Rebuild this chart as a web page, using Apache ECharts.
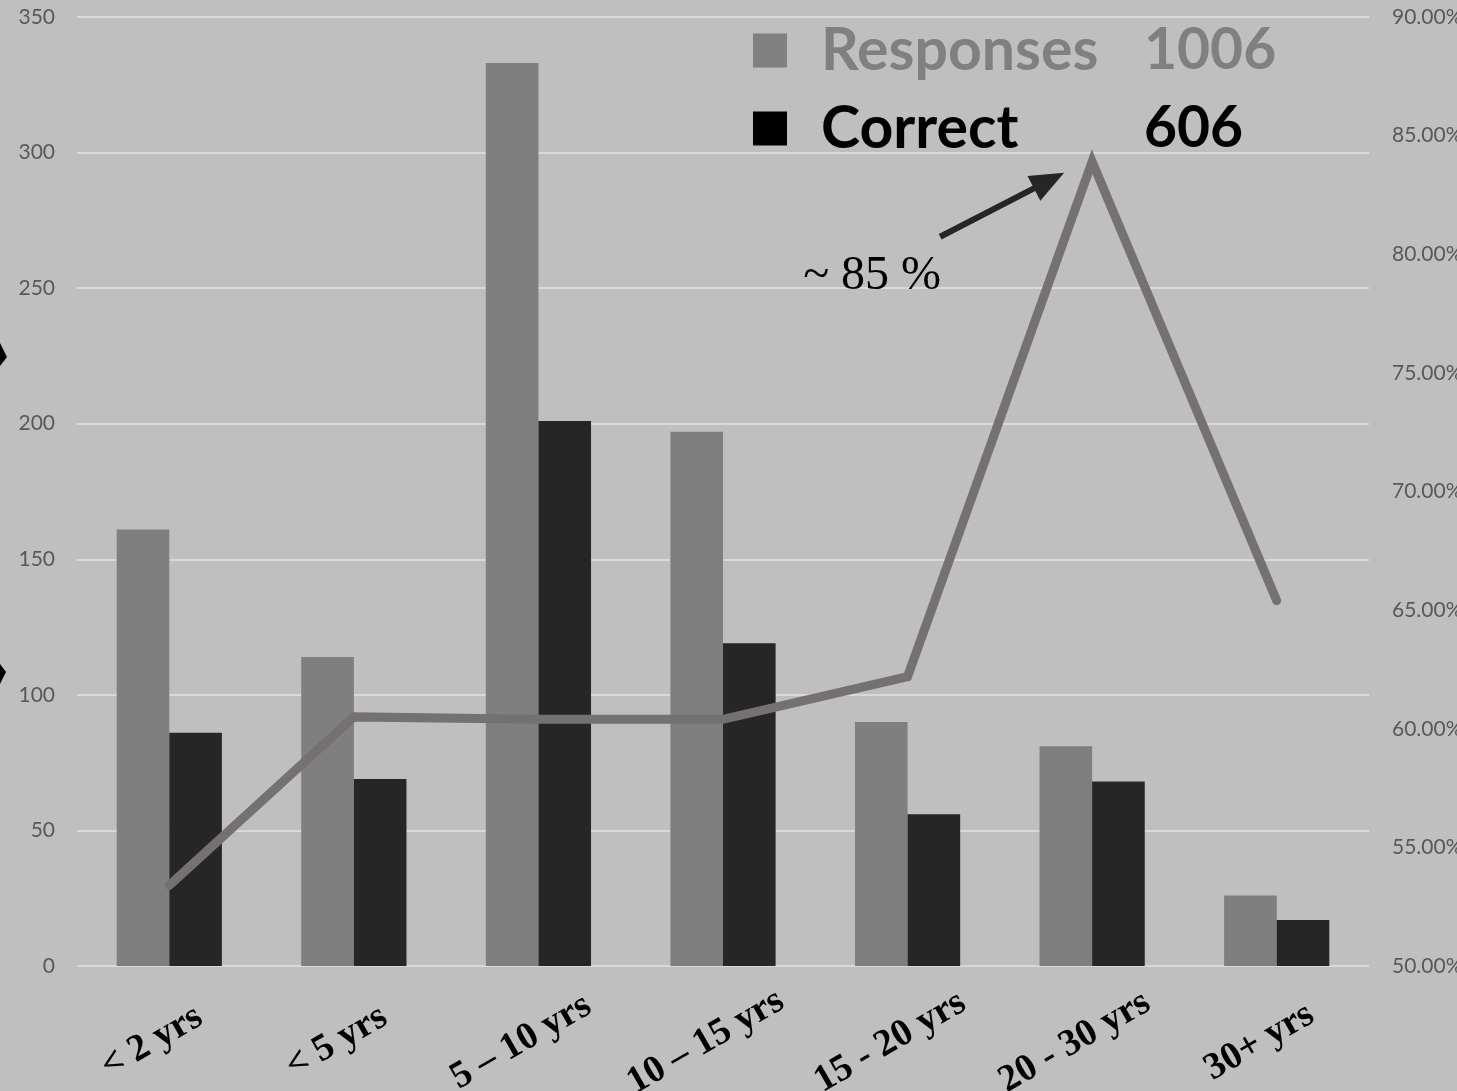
<!DOCTYPE html>
<html>
<head>
<meta charset="utf-8">
<script src="https://cdn.jsdelivr.net/npm/echarts@6/dist/echarts.min.js"></script>
<style>
html,body{margin:0;padding:0;background:#bfbfbf;}
#c{width:1457px;height:1091px;}
</style>
</head>
<body>
<div id="c"></div>
<script>
var categories = ['< 2 yrs', '< 5 yrs', '5 \u2013 10 yrs', '10 \u2013 15 yrs', '15 - 20 yrs', '20 - 30 yrs', '30+ yrs'];
var responses = [161, 114, 333, 197, 90, 81, 26];
var correct = [86, 69, 201, 119, 56, 68, 17];
var percentCorrect = [53.4, 60.5, 60.4, 60.4, 62.2, 83.9, 65.4];
var leftTicks = {min: 0, max: 350, interval: 50};
var rightTicks = {min: 50, max: 90, interval: 5};
var legendTotals = {Responses: 1006, Correct: 606};
var annotationText = '~ 85 %';

var chart = echarts.init(document.getElementById('c'));
var option = {
  backgroundColor: '#bfbfbf',
  animation: false,
  grid: {left: 77, right: 88, top: 17, bottom: 125, containLabel: false, outerBoundsMode: 'none'},
  legend: {
    data: [{name: 'Responses', itemStyle: {color: '#808080'}}, {name: 'Correct', itemStyle: {color: '#000000'}}],
    orient: 'vertical',
    left: 753,
    top: 21,
    padding: 0,
    itemWidth: 34,
    itemHeight: 34,
    itemGap: 19,
    icon: 'rect',
    selectedMode: false,
    formatter: function (name) {
      if (name === 'Responses') return '{a|Responses}{b|' + legendTotals.Responses + '}';
      return '{c|Correct}{d|' + legendTotals.Correct + '}';
    },
    textStyle: {
      rich: {
        a: {color: '#808080', fontFamily: 'Lato', fontWeight: 'bold', fontSize: 59, width: 323, padding: [0, 0, 0, 29], lineHeight: 58},
        b: {color: '#808080', fontFamily: 'Lato', fontWeight: 'bold', fontSize: 57, lineHeight: 58},
        c: {color: '#000000', fontFamily: 'Lato', fontWeight: 'bold', fontSize: 59, width: 323, padding: [0, 0, 0, 29], lineHeight: 58},
        d: {color: '#000000', fontFamily: 'Lato', fontWeight: 'bold', fontSize: 57, lineHeight: 58}
      }
    }
  },
  xAxis: {
    type: 'category',
    data: categories,
    axisLine: {show: false},
    axisTick: {show: false},
    axisLabel: {
      interval: 0,
      rotate: 30,
      margin: 66,
      align: 'center',
      verticalAlign: 'middle',
      padding: [0, 40, 0, 0],
      color: '#000000',
      fontFamily: 'Liberation Serif',
      fontWeight: 'bold',
      fontSize: 38
    }
  },
  yAxis: [
    {
      type: 'value',
      min: leftTicks.min, max: leftTicks.max, interval: leftTicks.interval,
      axisLine: {show: false},
      axisTick: {show: false},
      axisLabel: {color: '#595959', fontFamily: 'Lato', fontSize: 21, margin: 22},
      splitLine: {lineStyle: {color: '#d9d9d9', width: 2}}
    },
    {
      type: 'value',
      min: rightTicks.min, max: rightTicks.max, interval: rightTicks.interval,
      position: 'right',
      axisLine: {show: false},
      axisTick: {show: false},
      axisLabel: {color: '#595959', fontFamily: 'Lato', fontSize: 21, margin: 23, align: 'left',
        formatter: function (v) { return v.toFixed(2) + '%'; }},
      splitLine: {show: false}
    }
  ],
  series: [
    {
      name: 'Responses', type: 'bar', data: responses, yAxisIndex: 0,
      barGap: '0%', barCategoryGap: '43%',
      itemStyle: {color: '#7f7f7f'}
    },
    {
      name: 'Correct', type: 'bar', data: correct, yAxisIndex: 0,
      barGap: '0%', barCategoryGap: '43%',
      itemStyle: {color: '#262626'}
    },
    {
      name: 'Percent', type: 'line', data: percentCorrect, yAxisIndex: 1,
      symbol: 'none', z: 5,
      lineStyle: {color: '#767171', width: 9, cap: 'round', join: 'miter'}
    }
  ]
};
chart.setOption(option);

// annotation anchored to the peak data point
var peakIdx = 5;
var peak = chart.convertToPixel({xAxisIndex: 0, yAxisIndex: 1}, [categories[peakIdx], percentCorrect[peakIdx]]);
var tip = [peak[0] - 28, peak[1] + 11];
var tail = [peak[0] - 152, peak[1] + 75];
var ang = Math.atan2(tip[1] - tail[1], tip[0] - tail[0]);
var headLen = 34, headW = 14;
var base = [tip[0] - headLen * Math.cos(ang), tip[1] - headLen * Math.sin(ang)];
var px = -Math.sin(ang), py = Math.cos(ang);
chart.setOption({
  graphic: [
    {type: 'line', shape: {x1: tail[0], y1: tail[1], x2: base[0] + 6 * Math.cos(ang), y2: base[1] + 6 * Math.sin(ang)},
      style: {stroke: '#262626', lineWidth: 6}},
    {type: 'polygon', shape: {points: [tip, [base[0] + px * headW, base[1] + py * headW], [base[0] - px * headW, base[1] - py * headW]]},
      style: {fill: '#262626'}},
    {type: 'text', x: peak[0] - 289, y: peak[1] + 139,
      style: {text: annotationText, fill: '#000000', font: '48px "Liberation Serif"', textVerticalAlign: 'bottom'}},
    {type: 'polygon', shape: {points: [[0, 343], [7, 357], [0, 366]]}, style: {fill: '#000'}},
    {type: 'polygon', shape: {points: [[0, 664], [6, 672], [0, 684]]}, style: {fill: '#000'}}
  ]
});
</script>
</body>
</html>
